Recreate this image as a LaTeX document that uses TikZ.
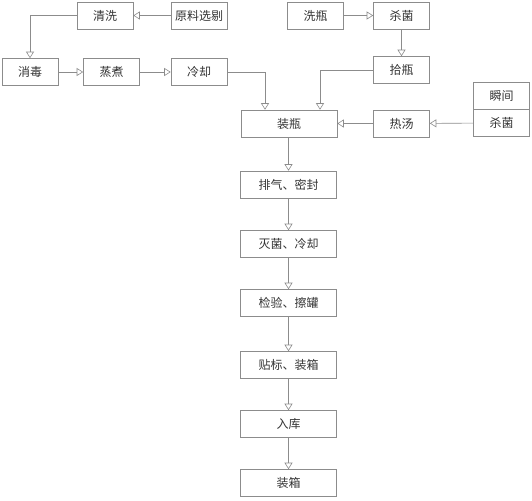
\documentclass[tikz,border=0pt]{standalone}
\usepackage{fontspec}
\newfontfamily\cjk{Noto Sans CJK SC}
\usetikzlibrary{arrows.meta}
\begin{document}
\begin{tikzpicture}[x=1pt,y=-1pt,
  box/.style={draw=black!45,line width=0.6pt,minimum height=27pt,inner sep=0pt,font=\cjk\fontsize{12}{14}\selectfont,text=black!80},
  sbox/.style={box,minimum width=56pt},
  wbox/.style={box,minimum width=96pt},
  conn/.style={draw=black!45,line width=0.6pt,-{Triangle[open,length=6.5pt,width=8pt]}}]
\useasboundingbox (0,0) rectangle (532,500);
\node[sbox] (qx) at (105,15.5) {清洗};
\node[sbox] (yl) at (199,15.5) {原料选剔};
\node[sbox] (xd) at (30,72) {消毒};
\node[sbox] (zz) at (111.5,72) {蒸煮};
\node[sbox] (lq) at (199,72) {冷却};
\node[sbox] (xp) at (315.5,15.5) {洗瓶};
\node[sbox] (sj) at (401.5,15.5) {杀菌};
\node[sbox] (sp) at (401.5,70) {拾瓶};
\node[wbox] (zp) at (289,123.5) {装瓶};
\node[sbox] (rt) at (401.5,123.5) {热汤};
\node[sbox] (sjian) at (501.5,96) {瞬间};
\node[sbox] (sj2) at (501.5,123) {杀菌};
\node[wbox] (pq) at (288.5,184.5) {排气、密封};
\node[wbox] (mj) at (288.5,244) {灭菌、冷却};
\node[wbox] (jy) at (288.5,303) {检验、擦罐};
\node[wbox] (tb) at (288.5,365) {贴标、装箱};
\node[wbox] (rk) at (288.5,424) {入库};
\node[wbox] (zx) at (288.5,483) {装箱};
\path[conn] (yl) -- (qx);
\path[conn] (qx.west) -| (xd.north);
\path[conn] (xd) -- (zz);
\path[conn] (zz) -- (lq);
\path[conn] (lq.east) -| ([xshift=-24pt]zp.north);
\path[conn] (xp) -- (sj);
\path[conn] (sj) -- (sp);
\path[conn] (sp.west) -| ([xshift=31pt]zp.north);
\path[conn] (sj2) -- (rt);
\path[conn] (rt) -- (zp);
\path[conn] (zp.south -| pq.north) -- (pq);
\path[conn] (pq) -- (mj);
\path[conn] (mj) -- (jy);
\path[conn] (jy) -- (tb);
\path[conn] (tb) -- (rk);
\path[conn] (rk) -- (zx);
\end{tikzpicture}
\end{document}
